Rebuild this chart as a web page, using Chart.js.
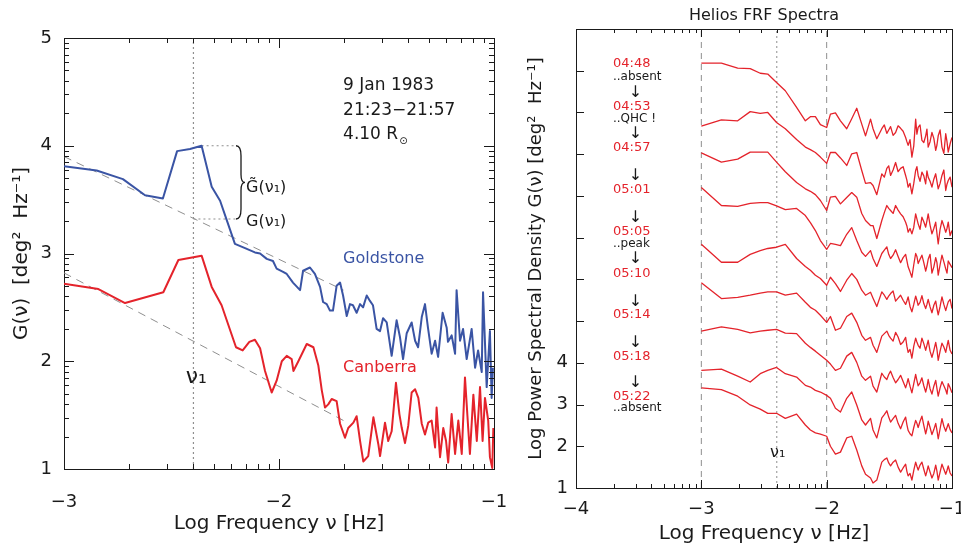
<!DOCTYPE html>
<html>
<head>
<meta charset="utf-8">
<script src="https://cdn.jsdelivr.net/npm/chart.js@4.4.0/dist/chart.umd.min.js"></script>
<style>
  html, body { margin: 0; padding: 0; background: #fff; }
  #wrap { position: relative; width: 961px; height: 546px; }
  canvas { position: absolute; top: 0; }
  #left { left: 0; }
  #right { left: 510px; }
</style>
</head>
<body>
<div id="wrap">
  <canvas id="left" width="510" height="546"></canvas>
  <canvas id="right" width="451" height="546"></canvas>
</div>
<script>
// ---- left panel: 9 Jan 1983, Goldstone and Canberra ----
const goldFreq = [-3.00, -2.848, -2.726, -2.623, -2.540, -2.474, -2.414, -2.360, -2.313, -2.274, -2.243, -2.205, -2.158, -2.112, -2.088, -2.057, -2.028, -2.011, -1.981, -1.964, -1.935, -1.902, -1.888, -1.856, -1.833, -1.809, -1.795, -1.778, -1.763, -1.749, -1.732, -1.716, -1.702, -1.685, -1.670, -1.656, -1.639, -1.623, -1.609, -1.592, -1.577, -1.563, -1.546, -1.530, -1.516, -1.499, -1.476, -1.453, -1.437, -1.423, -1.406, -1.383, -1.367, -1.353, -1.336, -1.321, -1.307, -1.290, -1.274, -1.260, -1.239, -1.220, -1.214, -1.197, -1.181, -1.174, -1.158, -1.144, -1.127, -1.104, -1.088, -1.074, -1.057, -1.051, -1.034, -1.019, -1.011, -1.005];
const goldG = [3.81, 3.77, 3.69, 3.54, 3.51, 3.95, 3.97, 4.00, 3.62, 3.49, 3.31, 3.09, 3.05, 3.01, 3.00, 2.95, 2.93, 2.86, 2.83, 2.81, 2.73, 2.66, 2.84, 2.87, 2.81, 2.69, 2.55, 2.53, 2.47, 2.47, 2.70, 2.73, 2.61, 2.42, 2.53, 2.52, 2.45, 2.53, 2.50, 2.61, 2.56, 2.52, 2.30, 2.28, 2.40, 2.36, 2.05, 2.38, 2.22, 2.02, 2.26, 2.36, 2.19, 2.13, 2.41, 2.53, 2.31, 2.07, 2.19, 2.04, 2.45, 2.31, 2.18, 2.24, 2.07, 2.66, 2.19, 2.30, 2.02, 2.30, 1.94, 2.10, 1.90, 2.64, 1.76, 2.28, 1.66, 1.94];

const canbFreq = [-3.00, -2.84, -2.716, -2.538, -2.468, -2.360, -2.313, -2.267, -2.200, -2.169, -2.138, -2.112, -2.088, -2.065, -2.034, -2.011, -1.987, -1.964, -1.941, -1.933, -1.910, -1.871, -1.840, -1.817, -1.801, -1.786, -1.771, -1.755, -1.732, -1.716, -1.693, -1.678, -1.654, -1.639, -1.623, -1.608, -1.585, -1.561, -1.538, -1.530, -1.507, -1.492, -1.476, -1.456, -1.440, -1.429, -1.414, -1.399, -1.383, -1.367, -1.352, -1.336, -1.321, -1.306, -1.290, -1.274, -1.267, -1.251, -1.236, -1.223, -1.213, -1.197, -1.181, -1.166, -1.150, -1.135, -1.120, -1.112, -1.096, -1.080, -1.065, -1.053, -1.042, -1.027, -1.019, -1.008, -1.003];
const canbG = [2.72, 2.67, 2.54, 2.64, 2.94, 2.98, 2.69, 2.52, 2.13, 2.10, 2.18, 2.20, 2.12, 1.91, 1.71, 1.82, 2.00, 2.05, 2.02, 1.91, 2.00, 2.16, 2.13, 1.96, 1.73, 1.57, 1.60, 1.65, 1.63, 1.42, 1.29, 1.38, 1.43, 1.49, 1.26, 1.07, 1.12, 1.48, 1.23, 1.12, 1.43, 1.26, 1.35, 1.80, 1.51, 1.38, 1.24, 1.40, 1.71, 1.74, 1.66, 1.42, 1.32, 1.43, 1.45, 1.20, 1.57, 1.11, 1.38, 1.26, 1.06, 1.51, 1.14, 1.45, 1.14, 1.85, 1.38, 1.14, 1.69, 1.26, 1.76, 1.26, 1.66, 1.45, 1.11, 1.01, 1.38];

// power law fits (dashed)
const goldFitFreq = [-3.00, -1.70];
const goldFitG = [3.90, 2.66];
const canbFitFreq = [-3.00, -1.70];
const canbFitG = [2.82, 1.45];

const nu1 = -2.398;
const gTildeFreq = [-2.36, -2.20];
const gTildeLevel = [4.00, 4.00];
const gNu1Freq = [nu1, -2.20];
const gNu1Level = [3.32, 3.32];

// ---- right panel: Helios FRF spectra ----
const specFreq = [-3.00, -2.84, -2.71, -2.61, -2.53, -2.47, -2.40, -2.33, -2.24, -2.17, -2.13, -2.09, -2.05, -2.00, -1.97, -1.93, -1.89, -1.84, -1.80, -1.76, -1.72, -1.69, -1.65, -1.63, -1.60,
  -1.56, -1.54, -1.52, -1.505, -1.49, -1.47, -1.45, -1.43, -1.41, -1.39, -1.37, -1.36, -1.35, -1.335, -1.32, -1.305, -1.29, -1.28, -1.27, -1.255, -1.24, -1.225, -1.21, -1.20, -1.19, -1.175, -1.16, -1.145, -1.13, -1.12, -1.11, -1.095, -1.08, -1.065, -1.05, -1.04, -1.03, -1.015, -1.00];
const spec0448 = [11.18, 11.18, 11.06, 11.05, 10.94, 10.92, 10.72, 10.52, 10.12, 9.80, 9.90, 9.90, 9.71, 9.64, 9.96, 9.99, 9.80, 9.61, 9.85, 10.10, 9.72, 9.44, 9.84, 9.61, 9.37,
  9.61, 9.70, 9.50, 9.58, 9.66, 9.45, 9.52, 9.68, 9.62, 9.55, 9.40, 9.30, 9.21, 9.35, 8.93, 9.20, 9.84, 9.48, 9.64, 9.70, 9.33, 9.28, 9.44, 9.60, 9.17, 9.30, 9.52, 9.38, 9.09, 9.22, 9.44, 9.58, 9.17, 9.02, 9.49, 9.30, 9.05, 9.25, 9.40];
const spec0453 = [9.67, 9.82, 9.80, 10.02, 9.98, 10.00, 9.76, 9.61, 9.35, 9.17, 9.11, 9.04, 8.93, 8.78, 9.04, 9.04, 8.91, 8.73, 9.01, 9.04, 8.61, 8.30, 8.32, 8.25, 8.03,
  8.53, 8.45, 8.66, 8.72, 8.49, 8.62, 8.80, 8.58, 8.66, 8.70, 8.49, 8.38, 8.21, 8.30, 8.05, 8.30, 8.61, 8.70, 8.49, 8.35, 8.57, 8.48, 8.29, 8.60, 8.45, 8.35, 8.21, 8.40, 8.53, 8.35, 8.17, 8.30, 8.49, 8.62, 8.13, 8.28, 8.37, 8.45, 8.21];
const spec0457 = [9.03, 8.81, 8.88, 9.05, 9.05, 9.05, 8.81, 8.58, 8.32, 8.17, 8.11, 8.03, 7.89, 7.65, 7.97, 7.99, 7.81, 7.96, 8.08, 7.97, 7.58, 7.41, 7.29, 7.29, 6.98,
  7.41, 7.60, 7.77, 7.70, 7.65, 7.58, 7.77, 7.66, 7.57, 7.50, 7.37, 7.28, 7.13, 7.22, 7.09, 7.25, 7.57, 7.45, 7.33, 7.20, 7.49, 7.38, 7.25, 7.40, 7.57, 7.30, 7.09, 7.22, 7.37, 7.10, 6.85, 7.20, 7.41, 7.28, 7.13, 7.22, 7.37, 7.05, 7.17];
const spec0501 = [8.20, 7.77, 7.75, 7.82, 7.84, 7.84, 7.76, 7.67, 7.70, 7.53, 7.36, 7.17, 6.93, 6.72, 6.86, 6.84, 6.81, 7.08, 7.24, 6.93, 6.65, 6.55, 6.69, 6.50, 6.31,
  6.62, 6.70, 6.78, 6.60, 6.50, 6.58, 6.71, 6.55, 6.40, 6.52, 6.60, 6.45, 6.30, 6.18, 6.05, 6.35, 6.62, 6.55, 6.38, 6.48, 6.58, 6.40, 6.20, 6.32, 6.48, 6.60, 6.15, 6.30, 6.52, 6.40, 6.10, 6.35, 6.58, 6.42, 6.25, 6.15, 6.44, 6.36, 6.28];
const spec0505 = [6.84, 6.41, 6.41, 6.60, 6.69, 6.74, 6.77, 6.84, 6.50, 6.31, 6.22, 6.10, 6.02, 5.86, 6.05, 5.90, 5.71, 5.98, 6.14, 6.00, 5.74, 5.62, 5.69, 5.55, 5.35,
  5.70, 5.62, 5.52, 5.60, 5.66, 5.72, 5.48, 5.55, 5.62, 5.50, 5.40, 5.48, 5.58, 5.35, 5.22, 5.40, 5.60, 5.50, 5.38, 5.45, 5.61, 5.42, 5.30, 5.40, 5.52, 5.34, 5.20, 5.38, 5.48, 5.30, 5.15, 5.35, 5.58, 5.40, 5.25, 5.36, 5.46, 5.52, 5.30];
const spec0510 = [5.92, 5.54, 5.57, 5.62, 5.67, 5.70, 5.70, 5.62, 5.67, 5.45, 5.33, 5.26, 5.14, 4.97, 5.11, 4.78, 4.83, 5.11, 5.19, 4.97, 4.66, 4.54, 4.61, 4.42, 4.25,
  4.64, 4.70, 4.76, 4.66, 4.59, 4.52, 4.73, 4.62, 4.44, 4.50, 4.61, 4.40, 4.25, 4.32, 4.11, 4.40, 4.59, 4.50, 4.42, 4.35, 4.59, 4.46, 4.30, 4.42, 4.54, 4.28, 4.13, 4.30, 4.49, 4.32, 4.06, 4.28, 4.47, 4.38, 4.25, 4.40, 4.54, 4.30, 4.21];
const spec0514 = [4.76, 4.86, 4.80, 4.72, 4.76, 4.78, 4.80, 4.71, 4.70, 4.47, 4.37, 4.28, 4.18, 4.06, 3.97, 3.82, 3.87, 4.16, 4.25, 4.01, 3.68, 3.58, 3.68, 3.44, 3.30,
  3.75, 3.66, 3.60, 3.72, 3.80, 3.65, 3.52, 3.60, 3.70, 3.55, 3.40, 3.50, 3.62, 3.44, 3.28, 3.50, 3.72, 3.58, 3.45, 3.52, 3.64, 3.45, 3.30, 3.42, 3.60, 3.38, 3.25, 3.44, 3.58, 3.38, 3.20, 3.40, 3.55, 3.45, 3.35, 3.25, 3.50, 3.40, 3.28];
const spec0518 = [3.82, 3.85, 3.68, 3.54, 3.74, 3.82, 3.89, 3.74, 3.66, 3.46, 3.42, 3.34, 3.30, 3.22, 3.15, 2.91, 2.82, 3.15, 3.30, 2.99, 2.63, 2.51, 2.67, 2.39, 2.20,
  2.68, 2.76, 2.85, 2.70, 2.58, 2.66, 2.74, 2.55, 2.42, 2.58, 2.70, 2.52, 2.38, 2.30, 2.25, 2.45, 2.62, 2.55, 2.45, 2.60, 2.72, 2.50, 2.30, 2.42, 2.60, 2.45, 2.28, 2.40, 2.55, 2.38, 2.18, 2.42, 2.66, 2.48, 2.36, 2.45, 2.54, 2.40, 2.32];
const spec0522 = [3.40, 3.36, 3.20, 2.99, 2.89, 2.79, 2.79, 2.67, 2.77, 2.51, 2.39, 2.32, 2.29, 2.24, 2.00, 1.81, 1.86, 2.20, 2.24, 1.91, 1.53, 1.33, 1.24, 1.12, 1.19,
  1.62, 1.68, 1.72, 1.60, 1.53, 1.62, 1.67, 1.50, 1.38, 1.48, 1.57, 1.40, 1.29, 1.35, 1.19, 1.42, 1.62, 1.52, 1.43, 1.55, 1.62, 1.45, 1.29, 1.40, 1.53, 1.38, 1.24, 1.35, 1.55, 1.40, 1.19, 1.38, 1.57, 1.45, 1.33, 1.42, 1.53, 1.36, 1.29];

const timeLabels = ['04:48', '04:53', '04:57', '05:01', '05:05', '05:10', '05:14', '05:18', '05:22'];
const timeLabelY = [11.17, 10.14, 9.16, 8.15, 7.15, 6.14, 5.16, 4.16, 3.18];
const remarks = ['..absent', '..QHC !', '..peak', '..absent'];
const remarkY = [10.86, 9.85, 6.86, 2.91];
const arrowY = [10.47, 9.49, 8.49, 7.48, 6.48, 5.47, 4.47, 3.51];

// ---- helpers ----
const RED = '#e4232b';
const BLUE = '#3a54a4';
const GREY = '#8f8f8f';
const INK = '#1a1a1a';
const FONT = "'DejaVu Sans', sans-serif";
Chart.defaults.font.family = FONT;
Chart.defaults.color = INK;

const pts = (xs, ys) => xs.map((v, i) => ({ x: v, y: ys[i] }));
const minus = v => (v < 0 ? '\u2212' + Math.abs(v) : String(v));

function logMinors(lo, hi) {
  const out = [];
  for (let n = lo; n < hi; n++) {
    for (let k = 2; k <= 9; k++) out.push(n + Math.log10(k));
  }
  return out;
}
function range(lo, hi) {
  const out = [];
  for (let v = lo; v <= hi; v++) out.push(v);
  return out;
}
// fixed box sizes, and no extra room for labels hanging past the ends
function fixH(h) {
  return s => { s.height = h; s.paddingLeft = 0; s.paddingRight = 0; };
}
function fixW(w) {
  return s => { s.width = w; s.paddingTop = 0; s.paddingBottom = 0; };
}

// inward tick marks on all four sides of the box
const boxTicks = {
  id: 'boxTicks',
  afterDatasetsDraw(chart, args, o) {
    const { ctx, chartArea: a, scales: { x, y } } = chart;
    ctx.save();
    ctx.strokeStyle = INK;
    ctx.lineWidth = 1;
    ctx.beginPath();
    const xt = o.xMajor.map(v => [v, o.major]).concat(o.xMinor.map(v => [v, o.minor]));
    xt.forEach(([v, len]) => {
      const p = Math.round(x.getPixelForValue(v)) + 0.5;
      ctx.moveTo(p, a.bottom); ctx.lineTo(p, a.bottom - len);
      ctx.moveTo(p, a.top); ctx.lineTo(p, a.top + len);
    });
    const yt = o.yMajor.map(v => [v, o.major]).concat(o.yMinor.map(v => [v, o.minor]));
    yt.forEach(([v, len]) => {
      const p = Math.round(y.getPixelForValue(v)) + 0.5;
      ctx.moveTo(a.left, p); ctx.lineTo(a.left + len, p);
      ctx.moveTo(a.right, p); ctx.lineTo(a.right - len, p);
    });
    ctx.stroke();
    ctx.restore();
  }
};

// text labels placed in data coordinates, plus the brace
const notes = {
  id: 'notes',
  afterDatasetsDraw(chart, args, o) {
    const { ctx, scales: { x, y } } = chart;
    (o.items || []).forEach(t => {
      ctx.save();
      ctx.font = t.font;
      ctx.fillStyle = t.color || INK;
      ctx.textAlign = t.align || 'left';
      ctx.textBaseline = 'middle';
      const px = x.getPixelForValue(t.x);
      const py = y.getPixelForValue(t.y);
      ctx.fillText(t.text, px, py);
      if (t.sub) {
        const w = ctx.measureText(t.text).width;
        ctx.font = t.subFont;
        ctx.fillText(t.sub, px + w + 1, py + 6);
      }
      ctx.restore();
    });
    if (o.brace) {
      const b = o.brace;
      const x0 = x.getPixelForValue(b.x);
      const xs = x0 + 5, xt = x0 + 9;
      const y1 = y.getPixelForValue(b.top), y2 = y.getPixelForValue(b.bottom);
      const ym = (y1 + y2) / 2;
      ctx.save();
      ctx.strokeStyle = INK;
      ctx.lineWidth = 1.3;
      ctx.beginPath();
      ctx.moveTo(x0, y1);
      ctx.quadraticCurveTo(xs, y1, xs, y1 + 10);
      ctx.lineTo(xs, ym - 8);
      ctx.quadraticCurveTo(xs, ym, xt, ym);
      ctx.quadraticCurveTo(xs, ym, xs, ym + 8);
      ctx.lineTo(xs, y2 - 10);
      ctx.quadraticCurveTo(xs, y2, x0, y2);
      ctx.stroke();
      ctx.restore();
    }
  }
};

const hidden = { display: false };
const noGrid = { display: false, drawTicks: false };
const frame = { display: true, color: INK, width: 1 };

// ---- left chart ----
new Chart(document.getElementById('left'), {
  type: 'line',
  data: {
    datasets: [
      { data: pts(goldFreq, goldG), borderColor: BLUE, borderWidth: 2, order: 0 },
      { data: pts(canbFreq, canbG), borderColor: RED, borderWidth: 2, order: 0 },
      { data: pts(goldFitFreq, goldFitG), borderColor: GREY, borderWidth: 1, borderDash: [8, 6], order: 1 },
      { data: pts(canbFitFreq, canbFitG), borderColor: GREY, borderWidth: 1, borderDash: [8, 6], order: 1 },
      { data: pts([nu1, nu1], [1, 5]), borderColor: GREY, borderWidth: 1.2, borderDash: [2, 3], order: 1 },
      { data: pts(gTildeFreq, gTildeLevel), borderColor: GREY, borderWidth: 1.2, borderDash: [2, 3], order: 1 },
      { data: pts(gNu1Freq, gNu1Level), borderColor: GREY, borderWidth: 1.2, borderDash: [2, 3], order: 1 }
    ]
  },
  options: {
    responsive: false,
    animation: false,
    events: [],
    elements: { point: { radius: 0 }, line: { tension: 0, fill: false, borderJoinStyle: 'round' } },
    plugins: {
      legend: hidden,
      tooltip: { enabled: false },
      boxTicks: { xMajor: [-3, -2, -1], xMinor: logMinors(-3, -1), yMajor: range(1, 5), yMinor: logMinors(1, 5), major: 10, minor: 5 },
      notes: {
        items: [
          { text: '9 Jan 1983', x: -1.702, y: 4.56, font: '17px ' + FONT },
          { text: '21:23\u221221:57', x: -1.702, y: 4.33, font: '17px ' + FONT },
          { text: '4.10 R', sub: '\u2299', subFont: '10px ' + FONT, x: -1.702, y: 4.10, font: '17px ' + FONT },
          { text: 'Goldstone', x: -1.702, y: 2.95, color: BLUE, font: '16px ' + FONT },
          { text: 'Canberra', x: -1.702, y: 1.94, color: RED, font: '16px ' + FONT },
          { text: '\u03bd\u2081', x: -2.385, y: 1.85, align: 'center', font: '22px ' + FONT },
          { text: 'G\u0303(\u03bd\u2081)', x: -2.153, y: 3.61, font: '16px ' + FONT },
          { text: 'G(\u03bd\u2081)', x: -2.153, y: 3.29, font: '16px ' + FONT }
        ],
        brace: { x: -2.20, top: 4.00, bottom: 3.32 }
      }
    },
    scales: {
      x: {
        type: 'linear', position: 'bottom', min: -3, max: -1,
        ticks: { stepSize: 1, padding: 23, font: { size: 18 }, color: INK, callback: minus, maxRotation: 0 },
        grid: noGrid, border: frame,
        title: { display: true, text: 'Log Frequency \u03bd [Hz]', font: { size: 20 }, color: INK, padding: { top: 0, bottom: 10 } },
        afterFit: fixH(77)
      },
      xTop: {
        type: 'linear', position: 'top', min: -3, max: -1,
        ticks: hidden, grid: noGrid, border: frame,
        afterFit: fixH(38)
      },
      y: {
        type: 'linear', position: 'left', min: 1, max: 5,
        ticks: { stepSize: 1, padding: 12, font: { size: 18 }, color: INK },
        grid: noGrid, border: frame,
        title: { display: true, text: 'G(\u03bd)  [deg\u00b2  Hz\u207b\u00b9]', font: { size: 20 }, color: INK, padding: { top: 10, bottom: 0 } },
        afterFit: fixW(64)
      },
      yRight: {
        type: 'linear', position: 'right', min: 1, max: 5,
        ticks: hidden, grid: noGrid, border: frame,
        afterFit: fixW(16)
      }
    }
  },
  plugins: [boxTicks, notes]
});

// ---- right chart ----
const spectra = [spec0448, spec0453, spec0457, spec0501, spec0505, spec0510, spec0514, spec0518, spec0522];
const rightItems = [];
timeLabels.forEach((t, i) => rightItems.push({ text: t, x: -3.705, y: timeLabelY[i], color: RED, font: '13px ' + FONT }));
remarks.forEach((t, i) => rightItems.push({ text: t, x: -3.705, y: remarkY[i], font: '12px ' + FONT }));
arrowY.forEach(v => rightItems.push({ text: '\u2193', x: -3.525, y: v, align: 'center', font: '16px ' + FONT }));
rightItems.push({ text: '\u03bd\u2081', x: -2.39, y: 1.84, align: 'center', font: '16px ' + FONT });

new Chart(document.getElementById('right'), {
  type: 'line',
  data: {
    datasets: spectra.map(s => ({ data: pts(specFreq, s), borderColor: RED, borderWidth: 1.3, order: 0 }))
      .concat([
        { data: pts([-3, -3], [1, 12]), borderColor: GREY, borderWidth: 1, borderDash: [6, 5], order: 1 },
        { data: pts([-2, -2], [1, 12]), borderColor: GREY, borderWidth: 1, borderDash: [6, 5], order: 1 },
        { data: pts([nu1, nu1], [1, 12]), borderColor: GREY, borderWidth: 1, borderDash: [2, 3], order: 1 }
      ])
  },
  options: {
    responsive: false,
    animation: false,
    events: [],
    elements: { point: { radius: 0 }, line: { tension: 0, fill: false, borderJoinStyle: 'round' } },
    plugins: {
      legend: hidden,
      tooltip: { enabled: false },
      title: { display: true, text: 'Helios FRF Spectra', fullSize: false, font: { size: 16, weight: 'normal' }, color: INK, padding: { top: 6, bottom: 0 } },
      boxTicks: { xMajor: [-4, -3, -2, -1], xMinor: logMinors(-4, -1), yMajor: range(1, 11), yMinor: [], major: 8, minor: 4 },
      notes: { items: rightItems }
    },
    scales: {
      x: {
        type: 'linear', position: 'bottom', min: -4, max: -1,
        ticks: { stepSize: 1, padding: 11, font: { size: 18 }, color: INK, callback: minus, maxRotation: 0 },
        grid: noGrid, border: frame,
        title: { display: true, text: 'Log Frequency \u03bd [Hz]', font: { size: 20 }, color: INK, padding: { top: 0, bottom: 0 } },
        afterFit: fixH(58)
      },
      xTop: {
        type: 'linear', position: 'top', min: -4, max: -1,
        ticks: hidden, grid: noGrid, border: frame,
        afterFit: fixH(3.8)
      },
      y: {
        type: 'linear', position: 'left', min: 1, max: 12,
        ticks: { stepSize: 1, padding: 8, font: { size: 18 }, color: INK, callback: v => (v <= 4 ? String(v) : '') },
        grid: noGrid, border: frame,
        title: { display: true, text: 'Log Power Spectral Density G(\u03bd) [deg\u00b2  Hz\u207b\u00b9]', font: { size: 18 }, color: INK, padding: { top: 16, bottom: 0 } },
        afterFit: fixW(66)
      },
      yRight: {
        type: 'linear', position: 'right', min: 1, max: 12,
        ticks: hidden, grid: noGrid, border: frame,
        afterFit: fixW(9)
      }
    }
  },
  plugins: [boxTicks, notes]
});
</script>
</body>
</html>
